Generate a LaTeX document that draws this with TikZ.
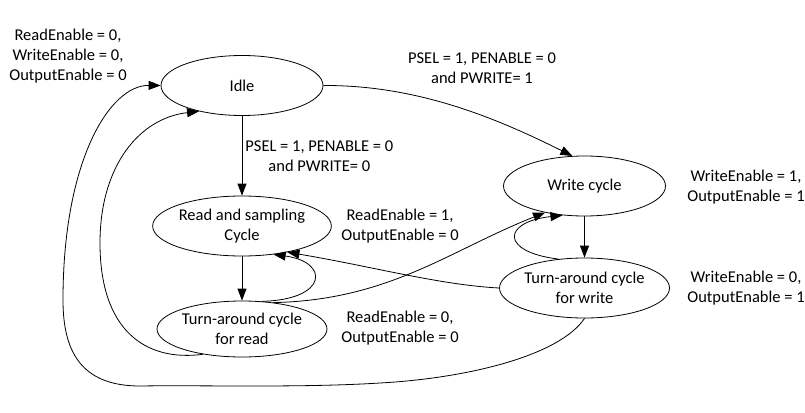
\documentclass[tikz,border=0pt]{standalone}
\usepackage{fontspec}
\setmainfont{Carlito}
\usepackage{tikz}
\usetikzlibrary{arrows.meta, shapes.geometric}

\begin{document}
\begin{tikzpicture}[x=1pt, y=-1pt, font=\fontsize{16.5}{20}\selectfont,
    >={Triangle[length=12pt, width=9pt]}, line width=0.8pt,
    state/.style={ellipse, draw, minimum width=162pt, minimum height=60pt, inner sep=0pt, align=center},
    lbl/.style={align=center, inner sep=0pt}]
  \useasboundingbox (0,0) rectangle (805,412);

  \node[state] (idle) at (242, 85.5) {Idle};
  \node[state] (rd)   at (242, 226)  {Read and sampling\\Cycle};
  \node[state, minimum height=56pt] (tard) at (242, 329) {Turn-around cycle\\for read};
  \node[state] (wr)   at (584.5, 186) {Write cycle};
  \node[state] (tawr) at (584.5, 288) {Turn-around cycle\\for write};

  % outputs of each state
  \node[lbl] (outidle) at (68, 56)   {ReadEnable = 0,\\WriteEnable = 0,\\OutputEnable = 0};
  \node[lbl] (outrd)   at (400, 226) {ReadEnable = 1,\\OutputEnable = 0};
  \node[lbl] (outtard) at (400, 328) {ReadEnable = 0,\\OutputEnable = 0};
  \node[lbl] (outwr)   at (746, 187) {WriteEnable = 1,\\OutputEnable = 1};
  \node[lbl] (outtawr) at (746, 288) {WriteEnable = 0,\\OutputEnable = 1};

  % idle -> read / write
  \draw[->] (idle) -- node[lbl, right=3pt] {PSEL = 1, PENABLE = 0\\and PWRITE= 0} (rd);
  \node[lbl] (condwr) at (482, 68) {PSEL = 1, PENABLE = 0\\and PWRITE= 1};
  \draw[->] (idle.east) .. controls (420,85) and (500,120) .. (wr.112);

  % read side
  \draw[->] (rd) -- (tard);
  \draw[->] (tard.55) .. controls (328,300) and (330,262) .. (rd.-42);
  \draw[->] (tard.40) .. controls (390,300) and (450,250) .. (wr.214);

  % write side
  \draw[->] (wr) -- (tawr);
  \draw[->] (tawr.132) .. controls (500,252) and (502,222) .. (wr.233);
  \draw[->] (tawr.west) .. controls (440,285) and (370,266) .. (rd.-30);

  % back to idle
  \draw[->] (tard.213) .. controls (145,362) and (100,330) .. (100,243)
                       .. controls (100,165) and (140,118) .. (idle.211);
  \draw[->] (tawr.south) .. controls (560,355) and (470,378) .. (380,383)
                         .. controls (300,388) and (200,385) .. (140,386)
                         .. controls (80,386) and (63,350) .. (63,300)
                         .. controls (63,160) and (110,85) .. (idle.west);
\end{tikzpicture}
\end{document}
